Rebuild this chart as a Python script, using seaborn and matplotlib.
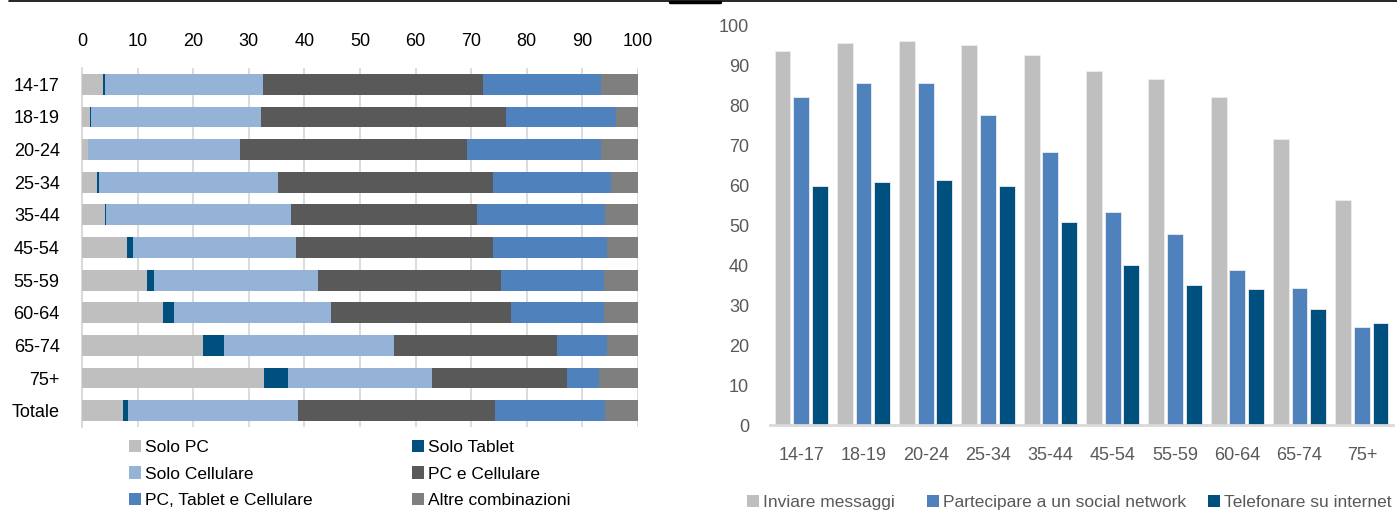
import numpy as np
import pandas as pd
import matplotlib
matplotlib.use("Agg")
import matplotlib.pyplot as plt
from matplotlib.patches import Patch
from matplotlib.lines import Line2D
import seaborn as sns

# ---- Device combinations by age group (percent, rows sum to 100) ----
ages = ['14-17', '18-19', '20-24', '25-34', '35-44', '45-54',
        '55-59', '60-64', '65-74', '75+', 'Totale']
device_labels = ['Solo PC', 'Solo Tablet', 'Solo Cellulare', 'PC e Cellulare',
                 'PC, Tablet e Cellulare', 'Altre combinazioni']
solo_pc = [3.8, 1.5, 1.0, 2.7, 4.1, 8.1, 11.7, 14.5, 21.7, 32.8, 7.3]
solo_tablet = [0.3, 0.1, 0.1, 0.3, 0.3, 1.0, 1.2, 2.1, 3.8, 4.2, 1.0]
solo_cellulare = [28.4, 30.6, 27.4, 32.3, 33.1, 29.4, 29.6, 28.1, 30.6, 25.9, 30.6]
pc_cellulare = [39.6, 44.0, 40.8, 38.6, 33.6, 35.4, 32.9, 32.5, 29.4, 24.4, 35.4]
pc_tablet_cellulare = [21.2, 19.8, 24.0, 21.3, 23.0, 20.6, 18.4, 16.6, 9.0, 5.7, 19.8]
altre = [6.7, 4.0, 6.7, 4.8, 5.9, 5.5, 6.2, 6.2, 5.5, 7.0, 5.9]

# ---- Internet activities by age group (percent) ----
age_groups = ['14-17', '18-19', '20-24', '25-34', '35-44', '45-54',
              '55-59', '60-64', '65-74', '75+']
activity_labels = ['Inviare messaggi', 'Partecipare a un social network',
                   'Telefonare su internet']
messaggi = [93.7, 95.7, 96.2, 95.2, 92.7, 88.7, 86.7, 82.2, 71.8, 56.4]
social = [82.2, 85.7, 85.7, 77.7, 68.3, 53.4, 47.8, 38.9, 34.4, 24.5]
telefonare = [59.9, 60.9, 61.4, 59.9, 50.9, 40.0, 35.0, 34.0, 29.0, 25.5]
y_ticks = [0, 10, 20, 30, 40, 50, 60, 70, 80, 90, 100]
x_ticks = [0, 10, 20, 30, 40, 50, 60, 70, 80, 90, 100]

device_colors = ['#BFBFBF', '#00507F', '#95B3D7', '#595959', '#4F81BD', '#7F7F7F']
activity_colors = ['#BFBFBF', '#4F81BD', '#00507F']

sns.set_style('white')
plt.rcParams['font.family'] = ['Liberation Sans', 'DejaVu Sans']

TICK_FS = 13
LEGEND_FS = 12.5

W, H = 1397, 513
fig = plt.figure(figsize=(W / 100, H / 100), dpi=100)


def box(left, top, right, bottom):
    return [left / W, 1 - bottom / H, (right - left) / W, (bottom - top) / H]


def legend_block(handles, labels, x, y, color='black', **kw):
    """Place a borderless legend with its top-left corner at pixel (x, y)."""
    leg = fig.legend(handles, labels, loc='upper left',
                     bbox_to_anchor=(x / W, 1 - y / H), frameon=False,
                     fontsize=LEGEND_FS, borderpad=0, borderaxespad=0,
                     handlelength=0.7, handleheight=0.7, handletextpad=0.25,
                     labelspacing=0.65, **kw)
    for t in leg.get_texts():
        t.set_color(color)
    return leg


# ---------------- Left: stacked horizontal bars ----------------
ax1 = fig.add_axes(box(82, 68, 638, 427))
series = np.array([solo_pc, solo_tablet, solo_cellulare, pc_cellulare,
                   pc_tablet_cellulare, altre])
cumulative = np.cumsum(series, axis=0)
# draw cumulative totals from the outermost segment inwards so that each
# shorter bar sits on top of the longer one behind it
for i in range(len(device_labels) - 1, -1, -1):
    sns.barplot(x=cumulative[i], y=ages, order=ages, orient='h',
                color=device_colors[i], width=0.64, saturation=1,
                linewidth=0, ax=ax1, zorder=3)
ax1.set_xlim(0, 100)
ax1.set_ylim(len(ages) - 0.5, -0.5)
ax1.set_xticks(x_ticks)
ax1.xaxis.tick_top()
ax1.tick_params(axis='x', length=0, pad=13, labelsize=TICK_FS, labelcolor='black')
ax1.tick_params(axis='y', length=0, pad=16, labelsize=TICK_FS, labelcolor='black')
ax1.set_xlabel('')
ax1.set_ylabel('')
ax1.grid(axis='x', color='#D9D9D9', linewidth=1.3, zorder=0)
ax1.set_axisbelow(True)
for s in ['top', 'right', 'bottom']:
    ax1.spines[s].set_visible(False)
ax1.spines['left'].set_color('#D9D9D9')
ax1.spines['left'].set_linewidth(1.3)

handles1 = [Patch(facecolor=c, edgecolor='none') for c in device_colors]
legend_block([handles1[0], handles1[2], handles1[4]],
             [device_labels[0], device_labels[2], device_labels[4]], 129, 440)
legend_block([handles1[1], handles1[3], handles1[5]],
             [device_labels[1], device_labels[3], device_labels[5]], 412, 440)

# ---------------- Right: grouped vertical bars ----------------
ax2 = fig.add_axes(box(770, 26, 1393, 425))
df = pd.DataFrame({
    'age': age_groups * 3,
    'serie': [activity_labels[0]] * 10 + [activity_labels[1]] * 10 + [activity_labels[2]] * 10,
    'value': messaggi + social + telefonare,
})
sns.barplot(data=df, x='age', y='value', hue='serie', order=age_groups,
            hue_order=activity_labels, palette=activity_colors, saturation=1,
            width=0.9, gap=0.15, edgecolor='#EDEDED', linewidth=0.6,
            legend=False, ax=ax2)
ax2.set_ylim(0, 100)
ax2.set_yticks(y_ticks)
ax2.set_xlim(-0.5, len(age_groups) - 0.5)
ax2.tick_params(axis='y', length=0, pad=15, labelsize=TICK_FS, labelcolor='#595959')
ax2.tick_params(axis='x', length=0, pad=16, labelsize=TICK_FS, labelcolor='#595959')
ax2.set_xlabel('')
ax2.set_ylabel('')
for s in ['top', 'right', 'left']:
    ax2.spines[s].set_visible(False)
ax2.spines['bottom'].set_color('#D9D9D9')
ax2.spines['bottom'].set_linewidth(2)

handles2 = [Patch(facecolor=c, edgecolor='none') for c in activity_colors]
for k, x0 in enumerate([747, 927, 1208]):
    legend_block([handles2[k]], [activity_labels[k]], x0, 495, color='#595959')

# thin rule across the top of the page
fig.add_artist(Line2D([9 / W, 1], [1 - 1 / H, 1 - 1 / H], color='black',
                      linewidth=1.2, transform=fig.transFigure))
fig.add_artist(Line2D([670 / W, 720 / W], [1 - 1.5 / H, 1 - 1.5 / H],
                      color='black', linewidth=2.5, transform=fig.transFigure))

fig.savefig('out.png', dpi=100)
